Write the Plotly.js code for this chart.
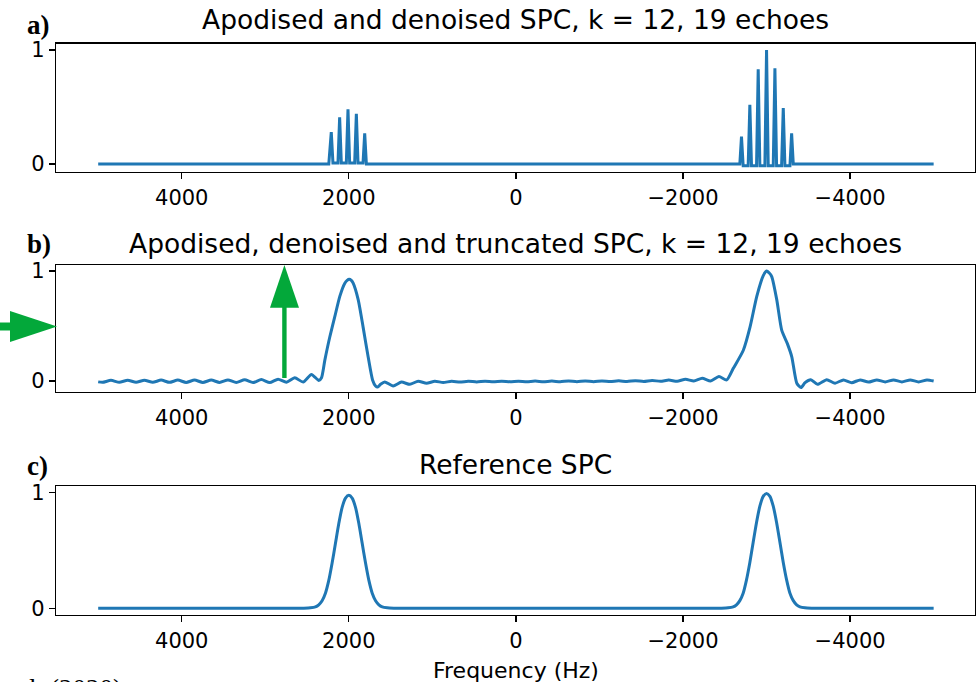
<!DOCTYPE html>
<html>
<head>
<meta charset="utf-8">
<script src="https://cdn.plot.ly/plotly-3.0.1.min.js"></script>
<style>html,body{margin:0;padding:0;background:#fff;}#chart{width:979px;height:682px;}</style>
</head>
<body>
<div id="chart"></div>
<script>
// ---- data ----
const X_ticks = [4000, 2000, 0, -2000, -4000];
const X_tick_labels = ["4000", "2000", "0", "\u22122000", "\u22124000"];
const Y_ticks = [0, 1];
const Y_tick_labels = ["0", "1"];

// a) apodised and denoised SPC (echo spikes)
const A_freq = [5000, 2240, 2210, 2190, 2130, 2110, 2090, 2030, 2010, 1990, 1930, 1910, 1890, 1830, 1810, 1790,
  -2680, -2700, -2720, -2780, -2800, -2820, -2880, -2900, -2920, -2980, -3000, -3020, -3080, -3100, -3120,
  -3180, -3200, -3220, -3280, -3300, -3320, -5000];
const A_amp = [0, 0, 0.28, 0.01, 0.01, 0.41, 0.01, 0.01, 0.48, 0.01, 0.01, 0.44, 0.01, 0.01, 0.27, 0,
  0, 0.24, -0.015, -0.015, 0.52, -0.015, -0.015, 0.83, -0.015, -0.015, 1.0, -0.015, -0.015, 0.84, -0.015,
  -0.015, 0.49, -0.015, -0.015, 0.27, 0, 0];

// b) apodised, denoised and truncated SPC
const B_freq = [5000, 4947, 4847, 4747, 4647, 4547, 4447, 4347, 4247, 4147, 4047, 3947, 3847, 3747, 3647, 3547,
  3447, 3347, 3247, 3147, 3047, 2947, 2847, 2747, 2647, 2547, 2447, 2360, 2327, 2287, 2228, 2168, 2108, 2048,
  2020, 1996, 1970, 1948, 1888, 1829, 1769, 1716, 1680, 1655, 1620, 1570, 1470, 1370, 1270, 1170, 1070, 970,
  870, 770, 670, 570, 470, 370, 270, 170, 70, -30, -130, -230, -330, -430, -530, -630, -730, -830, -930,
  -1030, -1130, -1230, -1330, -1430, -1530, -1630, -1730, -1830, -1930, -2030, -2130, -2230, -2330, -2430,
  -2523, -2602, -2722, -2802, -2883, -2962, -3000, -3030, -3062, -3122, -3182, -3249, -3302, -3362, -3413,
  -3461, -3530, -3610, -3720, -3820, -3920, -4020, -4120, -4220, -4320, -4420, -4520, -4620, -4720, -4820,
  -4920, -5000];
const B_amp = [-0.008, -0.012, 0.006, -0.012, 0.007, -0.012, 0.007, -0.012, 0.008, -0.012, 0.008, -0.013, 0.009,
  -0.013, 0.009, -0.013, 0.010, -0.014, 0.011, -0.014, 0.013, -0.014, 0.017, -0.012, 0.030, -0.010, 0.060,
  0.005, 0.030, 0.190, 0.400, 0.585, 0.770, 0.890, 0.915, 0.925, 0.915, 0.890, 0.740, 0.490, 0.220, 0.010,
  -0.045, -0.055, -0.030, -0.008, -0.045, -0.010, -0.030, -0.002, -0.020, -0.002, -0.014, -0.002, -0.010,
  -0.002, -0.008, -0.002, -0.007, -0.002, -0.006, -0.002, -0.006, -0.001, -0.006, -0.001, -0.006, 0.000,
  -0.006, 0.000, -0.006, 0.001, -0.005, 0.002, -0.005, 0.003, -0.004, 0.005, -0.003, 0.008, -0.002, 0.015,
  0.000, 0.025, 0.000, 0.040, 0.010, 0.115, 0.280, 0.490, 0.770, 0.960, 1.000, 0.985, 0.950, 0.740, 0.460,
  0.340, 0.220, -0.020, -0.060, -0.015, 0.012, -0.030, 0.012, -0.020, 0.010, -0.015, 0.010, -0.010, 0.010,
  -0.008, 0.010, -0.008, 0.010, -0.008, 0.010, 0.000];

// c) reference SPC
const C_freq = [5000, 2620, 2540, 2460, 2400, 2360, 2320, 2280, 2240, 2200, 2160, 2120, 2080, 2040, 2000,
  1960, 1920, 1880, 1840, 1800, 1760, 1720, 1680, 1640, 1600, 1540, 1460, 1380,
  -2380, -2460, -2540, -2600, -2640, -2680, -2720, -2760, -2800, -2840, -2880, -2920, -2960, -3000,
  -3040, -3080, -3120, -3160, -3200, -3240, -3280, -3320, -3360, -3400, -3460, -3540, -3620, -5000];
const C_amp = [0, 0, 0.001, 0.004, 0.012, 0.03, 0.065, 0.13, 0.24, 0.39, 0.56, 0.73, 0.87, 0.95, 0.974,
  0.95, 0.87, 0.73, 0.56, 0.39, 0.24, 0.13, 0.065, 0.03, 0.012, 0.004, 0.001, 0,
  0, 0.001, 0.004, 0.012, 0.03, 0.066, 0.13, 0.245, 0.395, 0.57, 0.74, 0.88, 0.965, 0.99,
  0.965, 0.88, 0.74, 0.57, 0.395, 0.245, 0.13, 0.066, 0.03, 0.012, 0.004, 0.001, 0, 0];

const panel_titles = ["Apodised and denoised SPC, k = 12, 19 echoes",
  "Apodised, denoised and truncated SPC, k = 12, 19 echoes",
  "Reference SPC"];
const panel_letters = ["a)", "b)", "c)"];
const x_label = "Frequency (Hz)";
const caption = "al. (2020)";

// ---- layout helpers ----
const W = 979, H = 682, ML = 56, MR = 4;
const PW = W - ML - MR;
const px2x = p => (p - ML) / PW;
const py2y = p => 1 - p / H;
const BLUE = "#1f77b4";
const GREEN = "#03a83a";
const FONT = "DejaVu Sans";

function xa(anchor) {
  return {
    domain: [0, 1], range: [5505, -5495], anchor: anchor,
    tickmode: "array", tickvals: X_ticks, ticktext: X_tick_labels,
    ticks: "outside", ticklen: 6, tickwidth: 1.3, tickcolor: "#000",
    showline: true, linecolor: "#000", linewidth: 1.3, mirror: true,
    showgrid: false, zeroline: false,
    tickfont: {family: FONT, size: 21, color: "#000"}
  };
}
function ya(anchor, dom, rng) {
  return {
    domain: dom, range: rng, anchor: anchor,
    tickmode: "array", tickvals: Y_ticks, ticktext: Y_tick_labels,
    ticks: "outside", ticklen: 6, tickwidth: 1.3, tickcolor: "#000",
    showline: true, linecolor: "#000", linewidth: 1.3, mirror: true,
    showgrid: false, zeroline: false,
    tickfont: {family: FONT, size: 21, color: "#000"}
  };
}

const traces = [
  {x: A_freq, y: A_amp, xaxis: "x", yaxis: "y", mode: "lines", line: {color: BLUE, width: 3}, hoverinfo: "skip"},
  {x: B_freq, y: B_amp, xaxis: "x2", yaxis: "y2", mode: "lines", line: {color: BLUE, width: 3, shape: "spline", smoothing: 0.6}, hoverinfo: "skip"},
  {x: C_freq, y: C_amp, xaxis: "x3", yaxis: "y3", mode: "lines", line: {color: BLUE, width: 3, shape: "spline", smoothing: 0.6}, hoverinfo: "skip"}
];

const titleY = [20, 243, 465];
const letterY = [25, 244, 466];
const annotations = [];
for (let i = 0; i < 3; i++) {
  annotations.push({xref: "paper", yref: "paper", x: 0.5, y: py2y(titleY[i]), xanchor: "center", yanchor: "middle",
    text: panel_titles[i], showarrow: false, font: {family: FONT, size: 26.5, color: "#000"}});
  annotations.push({xref: "paper", yref: "paper", x: px2x(25), y: py2y(letterY[i]), xanchor: "left", yanchor: "middle",
    text: "<b>" + panel_letters[i] + "</b>", showarrow: false, font: {family: "Liberation Serif", size: 27, color: "#000"}});
}
annotations.push({xref: "paper", yref: "paper", x: 0.5, y: py2y(670), xanchor: "center", yanchor: "middle",
  text: x_label, showarrow: false, font: {family: FONT, size: 22, color: "#000"}});
annotations.push({xref: "paper", yref: "paper", x: px2x(16), y: py2y(673), xanchor: "left", yanchor: "top",
  text: caption, showarrow: false, borderpad: 0, font: {family: "Liberation Serif", size: 27, color: "#000"}});

const shapes = [
  // vertical arrow in panel b
  {type: "rect", xref: "paper", yref: "paper", x0: px2x(282.2), x1: px2x(286.6), y0: py2y(378), y1: py2y(300),
    fillcolor: GREEN, line: {width: 0}, layer: "above"},
  {type: "path", xref: "paper", yref: "paper",
    path: `M ${px2x(270)},${py2y(307.7)} L ${px2x(299)},${py2y(307.7)} L ${px2x(284.4)},${py2y(265)} Z`,
    fillcolor: GREEN, line: {width: 0}, layer: "above"},
  // horizontal arrow at left of panel b
  {type: "rect", xref: "paper", yref: "paper", x0: px2x(0), x1: px2x(14), y0: py2y(330.5), y1: py2y(322.5),
    fillcolor: GREEN, line: {width: 0}, layer: "above"},
  {type: "path", xref: "paper", yref: "paper",
    path: `M ${px2x(10)},${py2y(311)} L ${px2x(10)},${py2y(342)} L ${px2x(57)},${py2y(326.5)} Z`,
    fillcolor: GREEN, line: {width: 0}, layer: "above"}
];

const layout = {
  width: W, height: H,
  margin: {l: ML, r: MR, t: 0, b: 0},
  paper_bgcolor: "#fff", plot_bgcolor: "#fff",
  showlegend: false,
  xaxis: xa("y"), xaxis2: xa("y2"), xaxis3: xa("y3"),
  yaxis: ya("x", [py2y(172), py2y(43.5)], [-0.070, 1.057]),
  yaxis2: ya("x2", [py2y(392), py2y(265)], [-0.100, 1.055]),
  yaxis3: ya("x3", [py2y(615), py2y(486)], [-0.058, 1.054]),
  annotations: annotations,
  shapes: shapes
};

Plotly.newPlot("chart", traces, layout, {staticPlot: true, displayModeBar: false});
</script>
</body>
</html>
